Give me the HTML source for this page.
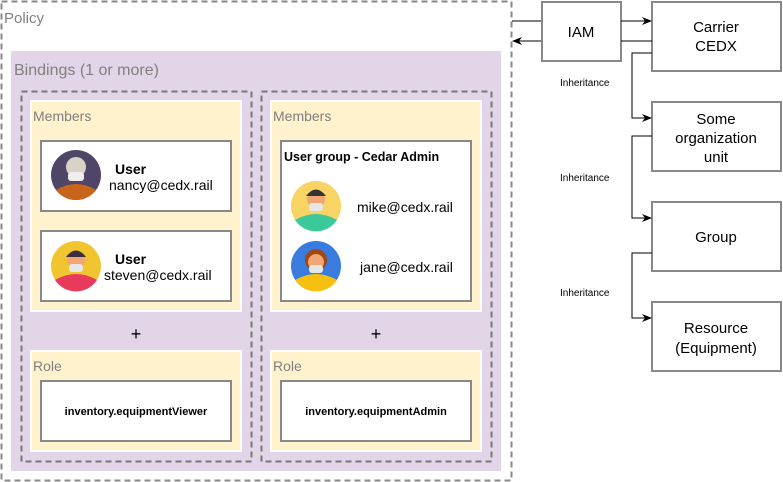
<!DOCTYPE html>
<html><head><meta charset="utf-8"><style>
html,body{margin:0;padding:0;background:#fff;}
svg{display:block;font-family:"Liberation Sans",sans-serif;}
</style></head><body>
<svg width="783" height="482" viewBox="0 0 783 482" xmlns="http://www.w3.org/2000/svg">
<defs>
<marker id="ar" viewBox="0 0 10 10" refX="9" refY="5" markerWidth="10" markerHeight="10" markerUnits="userSpaceOnUse" orient="auto"><path d="M0,1 L10,5 L0,9 L3,5 z" fill="#000"/></marker>
</defs>
<rect x="1.5" y="1.5" width="510" height="479" fill="#fff" stroke="#888" stroke-width="2" stroke-dasharray="6 4"/>
<text x="4" y="23" font-size="15" fill="#808080">Policy</text>
<rect x="11" y="51" width="490" height="420" fill="#e1d5e7"/>
<text x="14" y="75" font-size="16" fill="#808080">Bindings (1 or more)</text>
<rect x="21.5" y="91.5" width="230" height="370" fill="none" stroke="#777" stroke-width="2" stroke-dasharray="6 4"/>
<rect x="261.5" y="91.5" width="230" height="370" fill="none" stroke="#777" stroke-width="2" stroke-dasharray="6 4"/>
<g fill="#fff2cc" stroke="#fff" stroke-width="2">
<rect x="31" y="101" width="210" height="210"/>
<rect x="271" y="101" width="210" height="210"/>
<rect x="31" y="351" width="210" height="100"/>
<rect x="271" y="351" width="210" height="100"/>
</g>
<g font-size="14" fill="#808080">
<text x="33" y="121">Members</text>
<text x="273" y="121">Members</text>
<text x="33" y="371">Role</text>
<text x="273" y="371">Role</text>
</g>
<g font-size="18" text-anchor="middle" fill="#000">
<text x="136" y="340">+</text>
<text x="376" y="340">+</text>
</g>
<g fill="#fff" stroke="#888" stroke-width="2">
<rect x="41" y="141" width="190" height="70"/>
<rect x="41" y="231" width="190" height="70"/>
<rect x="281" y="141" width="190" height="160"/>
<rect x="41" y="381" width="190" height="60"/>
<rect x="281" y="381" width="190" height="60"/>
</g>
<g>
<circle cx="76" cy="175" r="25" fill="#4f4566"/>
<path d="M56,190 Q76,178 96,190 A25,25 0 0 1 56,190z" fill="#c8651b"/>
<circle cx="76" cy="167" r="10" fill="#d9d2c6"/>
<rect x="68" y="172" width="16" height="9" rx="3" fill="#eee"/>
<circle cx="76" cy="266" r="25" fill="#f0c530"/>
<path d="M55,280 Q76,268 97,280 A25,25 0 0 1 55,280z" fill="#e83a5a"/>
<circle cx="76" cy="260" r="9" fill="#f1a674"/>
<path d="M66,257 Q76,244 86,257 z" fill="#3a3040"/>
<rect x="69" y="264" width="14" height="8" rx="3" fill="#e6e6e6"/>
<circle cx="316" cy="206" r="25" fill="#f7d463"/>
<path d="M295,220 Q316,208 337,220 A25,25 0 0 1 295,220z" fill="#3cc99a"/>
<circle cx="316" cy="199" r="9" fill="#f1a674"/>
<path d="M306,196 Q316,183 326,196 z" fill="#333"/>
<rect x="309" y="203" width="14" height="8" rx="3" fill="#e6e6e6"/>
<circle cx="316" cy="266" r="25" fill="#3a7be0"/>
<path d="M295,280 Q316,268 337,280 A25,25 0 0 1 295,280z" fill="#f5c010"/>
<circle cx="316" cy="260" r="11" fill="#a0460e"/>
<circle cx="316" cy="262" r="8" fill="#f1a674"/>
<rect x="309" y="265" width="14" height="8" rx="3" fill="#e6e6e6"/>
</g>
<g font-size="14" fill="#000">
<text x="115" y="174" font-weight="bold">User</text>
<text x="109" y="190">nancy@cedx.rail</text>
<text x="115" y="264" font-weight="bold">User</text>
<text x="104" y="280">steven@cedx.rail</text>
<text x="357" y="212">mike@cedx.rail</text>
<text x="360" y="272">jane@cedx.rail</text>
</g>
<text x="284" y="161" font-size="12.5" font-weight="bold">User group - Cedar Admin</text>
<g font-size="11" font-weight="bold" text-anchor="middle">
<text x="136" y="415">inventory.equipmentViewer</text>
<text x="376" y="415">inventory.equipmentAdmin</text>
</g>
<g fill="#fff" stroke="#888" stroke-width="2">
<rect x="542" y="2" width="79" height="59"/>
<rect x="652" y="2" width="129" height="69"/>
<rect x="652" y="102" width="129" height="69"/>
<rect x="652" y="202" width="129" height="69"/>
<rect x="652" y="302" width="129" height="69"/>
</g>
<g font-size="15" text-anchor="middle" fill="#000">
<text x="581" y="37">IAM</text>
<text x="716" y="32">Carrier</text>
<text x="716" y="51">CEDX</text>
<text x="716" y="124">Some</text>
<text x="716" y="143">organization</text>
<text x="716" y="162">unit</text>
<text x="716" y="242">Group</text>
<text x="716" y="333">Resource</text>
<text x="716" y="353">(Equipment)</text>
</g>
<g stroke="#000" stroke-width="1" fill="none">
<path d="M512,21 H541"/>
<path d="M541,41 H513" marker-end="url(#ar)"/>
<path d="M621,21 H651" marker-end="url(#ar)"/>
<path d="M621,41 H652"/>
<path d="M652,53 H632 V118 H651" marker-end="url(#ar)"/>
<path d="M652,136 H632 V218 H651" marker-end="url(#ar)"/>
<path d="M652,253 H632 V318 H651" marker-end="url(#ar)"/>
</g>
<g font-size="10" fill="#000">
<rect x="558" y="75" width="66" height="14" fill="#fff"/>
<text x="560" y="86">Inheritance</text>
<text x="560" y="181">Inheritance</text>
<text x="560" y="296">Inheritance</text>
</g>
</svg>
</body></html>
